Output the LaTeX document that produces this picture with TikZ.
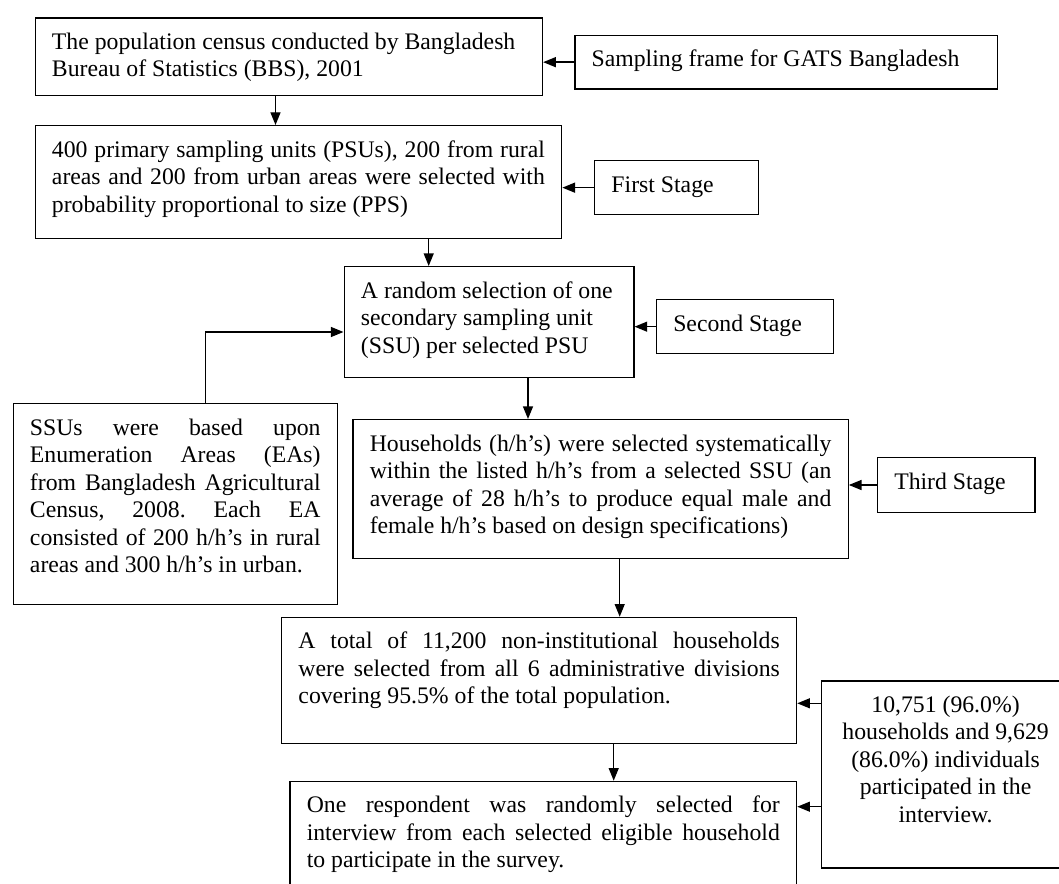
\documentclass[tikz,border=0pt]{standalone}
\usepackage{fontspec}
\setmainfont{Liberation Serif}
\usetikzlibrary{arrows.meta}
\newcommand{\boxtxt}[3]{\parbox[t][#2][t]{#1}{\frenchspacing\strut#3}}

\begin{document}
\begin{tikzpicture}[x=.75pt,y=-.75pt,line width=1pt,font=\fontsize{17.8}{20.6}\selectfont,
  stage/.style={draw,anchor=north west,inner xsep=12.6pt,inner ysep=9.2pt},
  arr/.style={-{Triangle[length=9.5pt,width=7.5pt]}}]
\useasboundingbox (0,0) rectangle (1059,884);
\clip (0,0) rectangle (1059,884);
\node[stage] (census) at (34.5,17.3) {\boxtxt{355.3pt}{39.9pt}{\raggedright The population census conducted by Bangladesh\\Bureau of Statistics (BBS), 2001}};
\node[stage] (frame) at (574.2,34.7) {\boxtxt{291.6pt}{21.8pt}{\raggedright Sampling frame for GATS Bangladesh}};
\node[stage] (psu) at (34.5,125) {\boxtxt{369.7pt}{66.35pt}{400 primary sampling units (PSUs), 200 from rural\linebreak areas and 200 from urban areas were selected with\linebreak probability proportional to size (PPS)}};
\node[stage] (first) at (594,160) {\boxtxt{97.8pt}{22.1pt}{\raggedright First Stage}};
\node[stage] (ssusel) at (343.5,266) {\boxtxt{192.1pt}{64.6pt}{\raggedright A random selection of one\\secondary sampling unit\\(SSU) per selected PSU}};
\node[stage] (second) at (655.8,299) {\boxtxt{107.7pt}{22.1pt}{\raggedright Second Stage}};
\node[stage] (ea) at (12.5,403) {\boxtxt{218pt}{132.35pt}{SSUs were based upon\linebreak Enumeration Areas (EAs)\linebreak from Bangladesh Agricultural\linebreak Census, 2008. Each EA\linebreak consisted of 200 h/h’s in rural\linebreak areas and 300 h/h’s in urban.}};
\node[stage] (hh) at (352.3,419) {\boxtxt{346.2pt}{85.85pt}{Households (h/h’s) were selected systematically\linebreak within the listed h/h’s from a selected SSU (an\linebreak average of 28 h/h’s to produce equal male and\linebreak female h/h’s based on design specifications)}};
\node[stage] (third) at (876.8,457) {\boxtxt{93pt}{22.6pt}{\raggedright Third Stage}};
\node[stage] (total) at (281,616.7) {\boxtxt{361pt}{76.1pt}{A total of 11,200 non-institutional households\linebreak were selected from all 6 administrative divisions\linebreak covering 95.5\% of the total population.}};
\node[stage] (resp) at (820.8,680.3) {\boxtxt{160.95pt}{121.85pt}{\centering 10,751 (96.0\%)\\households and 9,629\\(86.0\%) individuals\\participated in the\\interview.}};
\node[stage] (pick) at (289.3,780.7) {\boxtxt{354.8pt}{79.1pt}{One respondent was randomly selected for\linebreak interview from each selected eligible household\linebreak to participate in the survey.}};
\path (275.5,0) coordinate (c1) (428.7,0) coordinate (c2) (528,0) coordinate (c3) (619.7,0) coordinate (c4) (613.7,0) coordinate (c5)
  (205.2,332) coordinate (e1) (0,703.3) coordinate (r1) (0,806.7) coordinate (r2);
\draw[arr] (census.south -| c1)--(psu.north -| c1);\draw[arr] (psu.south -| c2)--(ssusel.north -| c2);
\draw[arr] (ssusel.south -| c3)--(hh.north -| c3);\draw[arr] (hh.south -| c4)--(total.north -| c4);
\draw[arr] (total.south -| c5)--(pick.north -| c5);
\draw[arr] (frame.west)--(frame.west -| census.east);\draw[arr] (first.west)--(first.west -| psu.east);
\draw[arr] (second.west)--(second.west -| ssusel.east);\draw[arr] (third.west)--(third.west -| hh.east);
\draw[arr] (ea.north -| e1) |- (ssusel.west |- e1);
\draw[arr] (resp.west |- r1)--(total.east |- r1);\draw[arr] (resp.west |- r2)--(pick.east |- r2);
\end{tikzpicture}
\end{document}
